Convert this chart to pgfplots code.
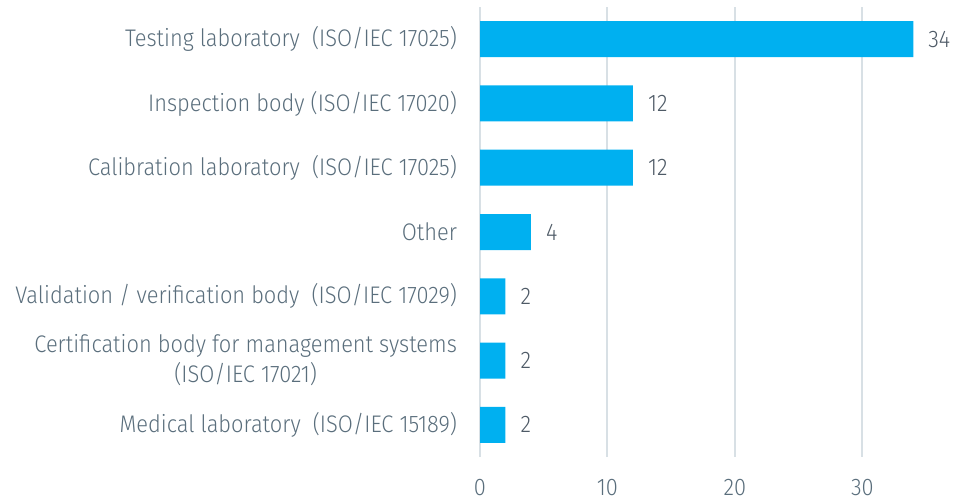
\documentclass[border=0pt]{standalone}
\usepackage{pgfplots}
\pgfplotsset{compat=1.18}
\usepackage{fontspec}
\setmainfont{Fira Sans Light}[FakeStretch=0.91]
\definecolor{barc}{HTML}{00B0F0}
\definecolor{gridc}{HTML}{D8E0E5}
\definecolor{labc}{HTML}{5A6E7C}
\definecolor{valc}{HTML}{4E5A66}
\begin{document}
\begin{tikzpicture}
\useasboundingbox (0,0) rectangle (478.5pt,249.5pt);
\begin{axis}[
  at={(240pt,21pt)}, anchor=south west,
  scale only axis, width=239pt, height=225pt,
  xbar, bar width=18pt,
  xmin=0, xmax=37.5, ymin=-0.5, ymax=6.5,
  ytick={0,...,6},
  yticklabels={
    Medical laboratory~ (ISO/IEC 15189),
    {Certification body for management systems\\(ISO/IEC 17021)},
    Validation / verification body~ (ISO/IEC 17029),
    Other,
    Calibration laboratory~ (ISO/IEC 17025),
    Inspection body (ISO/IEC 17020),
    Testing laboratory~ (ISO/IEC 17025)},
  xtick={0,10,20,30},
  xmajorgrids, grid style={color=gridc, line width=1pt},
  axis line style={draw=none}, major tick length=0pt,
  tick label style={font=\fontsize{12}{15}\selectfont, text=labc},
  yticklabel style={align=center, xshift=-8pt},
  xticklabel style={yshift=-7.5pt},
  /pgf/number format/assume math mode=true,
  nodes near coords,
  nodes near coords style={anchor=west, xshift=4pt, text=valc, font=\fontsize{12}{15}\selectfont},
]
\addplot[fill=barc, draw=none] coordinates {
  (2,0) (2,1) (2,2) (4,3) (12,4) (12,5) (34,6)};
\end{axis}
\end{tikzpicture}
\end{document}
